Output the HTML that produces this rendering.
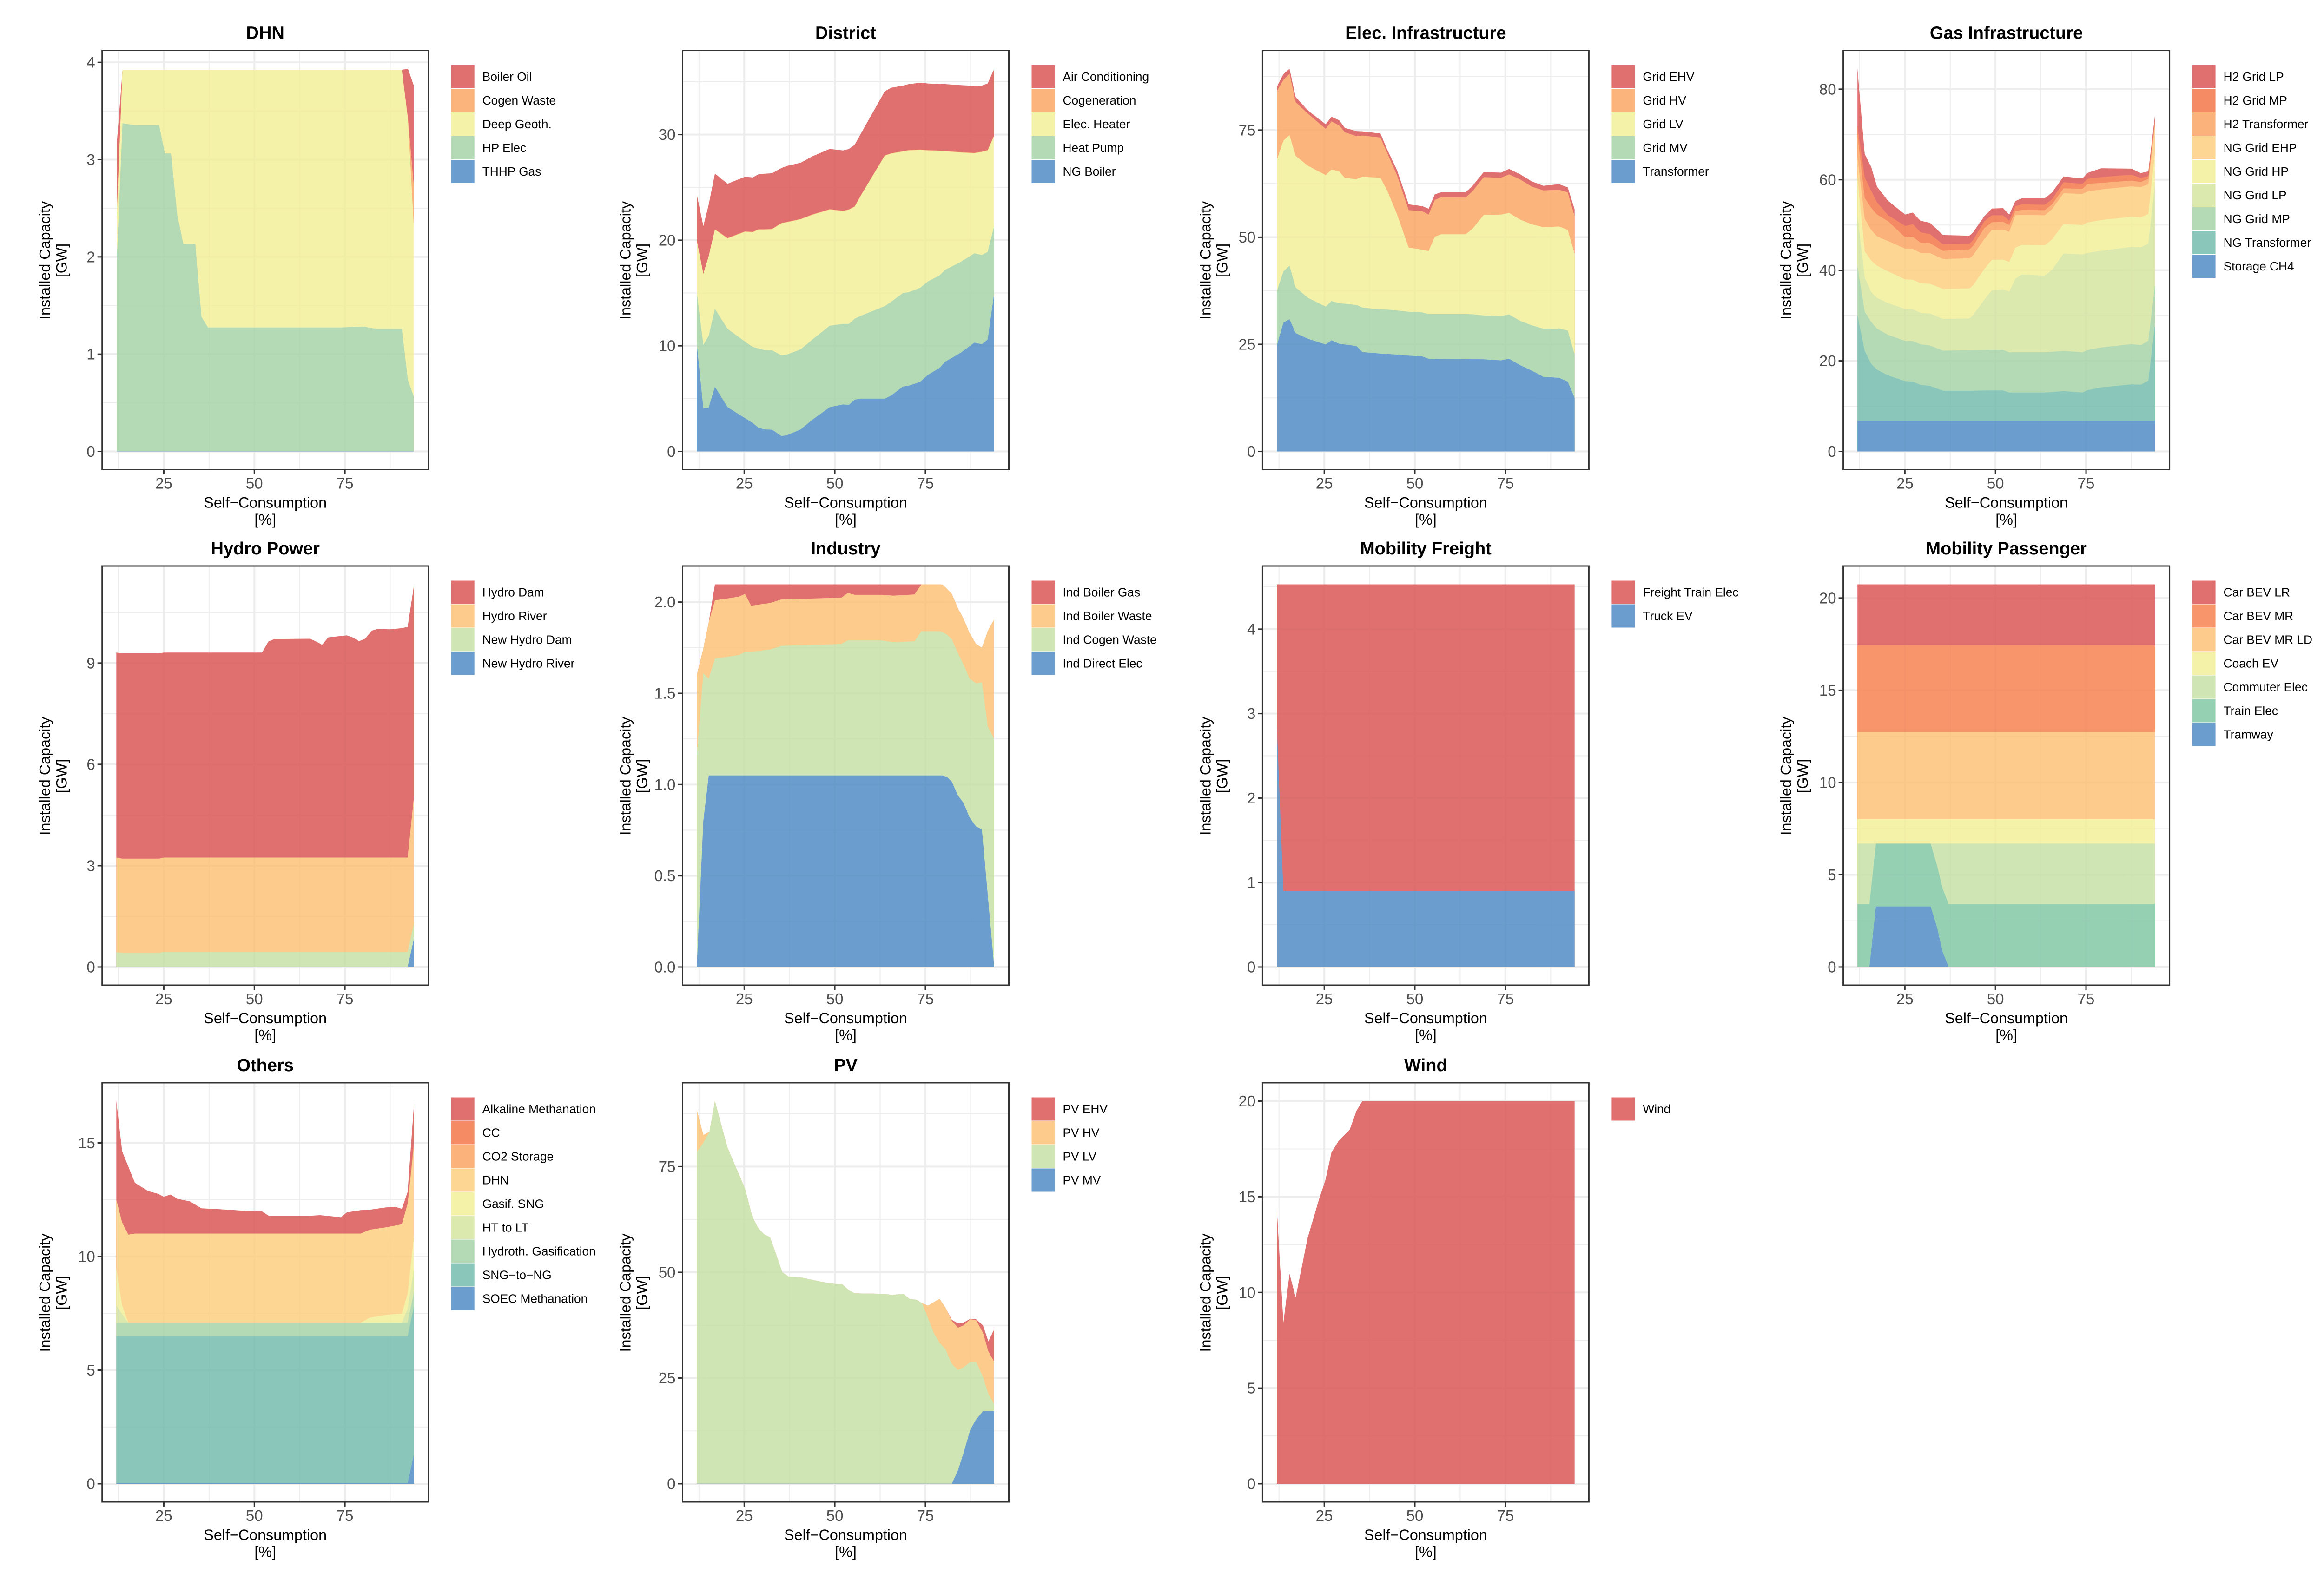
<!DOCTYPE html>
<html lang="en">
<head>
<meta charset="utf-8">
<title>Installed Capacity vs Self-Consumption</title>
<style>
html,body{margin:0;padding:0;background:#fff;}
svg{display:block;font-family:"Liberation Sans",Arial,sans-serif;}
</style>
</head>
<body>
<svg id="figure" xmlns="http://www.w3.org/2000/svg" width="5021" height="3385" viewBox="0 0 5021 3385">
<rect x="0" y="0" width="5021" height="3385" fill="#ffffff"></rect>
</svg>
<script>
// ---------- DHN ----------
const dhnX = [12,13.6,17,23.7,25.3,27,28.7,30.4,33.7,35.4,37.2,74,80,83,90.7,92.4,94];
const dhnBoilerOil = [0.72,0,0,0,0,0,0,0,0,0,0,0,0,0,0,0.5,1.03];
const dhnCogenWaste = [0.03,0,0,0,0,0,0,0,0,0,0,0,0,0,0,0.02,0.41];
const dhnDeepGeoth = [0.46,0.55,0.57,0.57,0.86,0.86,1.49,1.79,1.79,2.54,2.65,2.65,2.64,2.66,2.66,2.68,1.76];
const dhnHpElec = [1.94,3.37,3.35,3.35,3.06,3.06,2.43,2.13,2.13,1.38,1.27,1.27,1.28,1.26,1.26,0.73,0.56];
const dhnThhpGas = [0.004,0.004,0.004,0.004,0.004,0.004,0.004,0.004,0.004,0.004,0.004,0.004,0.004,0.004,0.004,0.004,0.004];
const dhnTicks = ['0','1','2','3','4'];

// ---------- District ----------
const districtX = [11.9,13.7,15.2,16.9,20.4,25.2,27.3,28.9,30.5,32.7,35.3,36.9,40.6,43.8,48.6,52.3,53.9,55.5,57.1,63.8,65.6,68.8,70.4,73.6,75.7,78.9,80.5,84.8,88.5,90.6,92.2,94];
const districtAirCond = [4.32,4.5,4.86,5.27,5.13,5.17,5.15,5.2,5.25,5.26,5.2,5.3,5.32,5.5,5.7,5.71,5.72,5.83,5.83,6.06,6.2,6.2,6.24,6.32,6.31,6.29,6.32,6.34,6.35,6.24,6.3,6.29];
const districtCogeneration = [0.04,0.04,0.04,0.04,0.04,0.04,0.04,0.04,0.04,0.04,0.04,0.04,0.04,0.04,0.04,0.04,0.04,0.04,0.04,0.04,0.04,0.04,0.04,0.04,0.04,0.04,0.04,0.04,0.04,0.04,0.04,0.04];
const districtElecHeater = [4.9,6.71,7.54,7.5,8.57,10.4,10.85,11.25,11.4,11.47,12.51,12.52,12.31,11.8,11,10.67,10.8,10.6,11.34,14.24,14.02,13.4,13.42,13.05,12.39,11.79,11.22,10.35,9.48,9.76,9.6,8.53];
const districtHeatPump = [4.93,6,6.8,7.38,7.41,7.24,7.2,7.49,7.51,7.51,7.64,7.63,7.58,7.6,7.71,7.63,7.67,7.67,7.83,8.76,8.88,8.85,8.86,8.9,8.85,8.76,8.7,8.6,8.45,8.45,8.3,6.37];
const districtNgBoiler = [10.15,4.09,4.16,6.12,4.19,3.16,2.7,2.26,2.09,2.06,1.45,1.55,2.09,3.0,4.19,4.45,4.41,4.9,5,5,5.3,6.15,6.22,6.6,7.25,7.9,8.5,9.35,10.3,10.15,10.6,15];
const districtTicks = ['0','10','20','30'];

// ---------- Elec. Infrastructure ----------
const elecX = [11.9,13.7,15.4,17.1,20.6,25.4,27,29.1,30.7,33.9,35.5,40.5,42.4,45.1,48.3,52,53.8,55.5,57.3,64,65.9,69,73.8,76,79.1,82.3,85.5,89.8,92.2,94.1];
const elecGridEhv = [1.03,1.35,1.17,1.2,0.76,1.05,1.1,1.2,0.98,1.19,0.97,0.95,0.8,1.2,1.36,1.2,1.35,1.3,1.17,1.25,1.26,1.2,1.19,1.27,1.19,1.2,1.08,1.28,1.19,1.62];
const elecGridHv = [16.07,14.16,14.33,12.54,12.14,10.8,11.22,10.72,10.7,10.02,9.63,9.38,8.76,9.1,8.74,8.97,8.51,8.6,8.67,8.59,8.76,8.8,8.59,8.99,9.37,8.8,8.59,8.58,8.75,8.75];
const elecGridLv = [30.62,30.54,30.45,30.7,30.8,30.7,30.7,30.78,29.35,29.35,30.54,30.7,27.74,22.4,14.96,14.65,14.72,18.05,18.61,18.61,19.94,23.47,23.7,23.7,23.64,23.57,23.7,23.8,23.5,23.46];
const elecGridMv = [12.72,11.94,12.49,10.66,9.55,8.83,9.15,9.47,9.5,9.6,10.36,10.34,10.35,10.3,10.25,10.26,10.42,10.45,10.47,10.5,10.48,10.23,10.34,10.34,10.34,10.58,11.21,11.52,11.9,10.18];
const elecTransformer = [24.66,30.06,30.86,27.6,26.25,24.97,25.93,25.13,24.95,24.6,23.2,22.83,22.75,22.6,22.35,22.19,21.63,21.6,21.58,21.55,21.52,21.5,21.24,21.63,20.12,18.85,17.42,17.18,16.3,12.49];
const elecTicks = ['0','25','50','75'];

// ---------- Gas Infrastructure ----------
const gasX = [11.9,13.9,15.7,17.3,20.4,25.1,27.2,29.3,31.9,35.5,42.8,43.8,46.9,49,52.1,53.8,55.5,57.3,63.6,65.6,68.8,74,75.5,79.2,87.5,90.1,92.2,94];
const gasH2Lp = [12.64,5.12,5.27,3.47,3.16,2.5,2.55,2.54,2.49,2.03,1.73,1.73,1.12,1.51,1.58,1.36,1.12,1.35,1.42,1.5,1.28,1.2,1.35,1.96,1.35,1.05,1.05,1.1];
const gasH2Mp = [1.86,4.57,3.76,2.7,1.34,2.55,2.8,2.3,2,1.45,1.3,1.28,1.5,1.54,1.44,0.94,1.18,1.2,1.21,1.13,1.34,1.07,1.13,1.27,1.3,0.92,0.6,0.8];
const gasH2Transformer = [4.9,4.6,4.9,4.8,4.37,2.48,2.7,2.23,2.2,1.8,1.94,2.07,2.42,1.7,1.72,1.5,0.86,1.15,1.13,1.05,1.1,1.12,1.67,1.44,1.26,1.1,1.2,0.3];
const gasNgEhp = [4.5,7.2,6.76,6.5,6.7,6.77,6.8,6.7,6.78,6.6,6.66,6.66,6.62,6.6,6.62,6.66,7.14,6.6,6.64,6.7,6.74,6.88,6.84,6.76,6.7,6.7,6.56,6.1];
const gasNgHp = [8.46,5.8,6.94,7.1,7,6.55,6.5,6.57,6.55,6.63,6.65,6.54,6.78,6.7,6.56,6.54,6.85,6.55,6.7,6.7,6.56,6.5,6.69,6.8,6.69,6.63,6.54,6.8];
const gasNgLp = [11.14,7.55,6.6,6.8,7,7.07,7.02,6.95,7.07,7,7,7.75,11.08,13.18,13.38,13.4,16.25,17.15,16.9,18.1,21.5,21.6,21.47,21.35,21.45,21.59,21.45,22.36];
const gasNgMp = [10.9,8.65,9.26,9.04,8.95,8.88,8.96,8.95,8.9,8.87,8.95,8.95,8.95,8.95,8.95,8.9,8.9,8.9,8.9,8.9,8.88,8.9,8.86,8.8,8.88,8.73,8.8,8.8];
const gasNgTransformer = [23.33,15.43,12.57,11.29,10.01,8.73,8.65,7.93,7.73,6.63,6.63,6.63,6.68,6.7,6.7,6.23,6.23,6.23,6.23,6.33,6.55,6.23,6.77,7.38,8.05,7.98,8.88,21.07];
const gasStorageCh4 = [6.77,6.77,6.77,6.77,6.77,6.77,6.77,6.77,6.77,6.77,6.77,6.77,6.77,6.77,6.77,6.77,6.77,6.77,6.77,6.77,6.77,6.77,6.77,6.77,6.77,6.77,6.77,6.77];
const gasTicks = ['0','20','40','60','80'];

// ---------- Hydro Power ----------
const hydroX = [11.9,13.5,23.7,25,52.1,53.9,55.5,65.4,67,68.7,70.4,75.5,77.1,78.9,80.6,82.4,84,87.4,90.4,92.3,94.1];
const hydroDam = [6.07,6.08,6.08,6.07,6.07,6.4,6.47,6.48,6.4,6.3,6.52,6.58,6.52,6.41,6.48,6.72,6.77,6.76,6.79,6.83,6.24];
const hydroRiver = [2.8,2.79,2.79,2.79,2.79,2.79,2.79,2.79,2.79,2.79,2.79,2.79,2.79,2.79,2.79,2.79,2.79,2.79,2.79,2.79,3.78];
const hydroNewDam = [0.44,0.42,0.42,0.45,0.45,0.45,0.45,0.45,0.45,0.45,0.45,0.45,0.45,0.45,0.45,0.45,0.45,0.45,0.45,0.45,0.45];
const hydroNewRiver = [0,0,0,0,0,0,0,0,0,0,0,0,0,0,0,0,0,0,0,0,0.86];
const hydroTicks = ['0','3','6','9'];

// ---------- Industry ----------
const industryX = [11.9,13.7,15.2,16.9,20.4,23.6,25.2,26.9,32.1,35.3,51.8,53.6,55.5,63,66.2,72,73.9,78.9,79.8,81.1,82.3,84,85.5,87.2,89,90.6,91.7,92.2,94];
const industryBoilerGas = [0,0,0,0.087,0.077,0.067,0.052,0.117,0.102,0.082,0.073,0.047,0.057,0.057,0.062,0.055,0,0,0,0,0,0,0,0,0,0,0,0,0];
const industryBoilerWaste = [0.44,0.135,0.31,0.32,0.32,0.32,0.318,0.253,0.255,0.255,0.254,0.26,0.25,0.25,0.255,0.257,0.257,0.257,0.26,0.25,0.249,0.245,0.25,0.25,0.215,0.19,0.41,0.52,0.656];
const industryCogenWaste = [1.16,0.81,0.53,0.64,0.65,0.66,0.677,0.677,0.69,0.71,0.72,0.74,0.74,0.74,0.73,0.735,0.79,0.79,0.785,0.78,0.78,0.78,0.76,0.76,0.785,0.805,0.89,0.92,1.25];
const industryDirectElec = [0,0.8,1.05,1.05,1.05,1.05,1.05,1.05,1.05,1.05,1.05,1.05,1.05,1.05,1.05,1.05,1.05,1.05,1.05,1.04,1.015,0.94,0.9,0.82,0.77,0.755,0.51,0.4,0];
const industryTicks = ['0.0','0.5','1.0','1.5','2.0'];

// ---------- Mobility Freight ----------
const freightX = [11.9,13.7,94.1];
const freightTrainElec = [1.67,3.63,3.63];
const freightTruckEv = [2.86,0.9,0.9];
const freightTicks = ['0','1','2','3','4'];

// ---------- Mobility Passenger ----------
const passengerX = [11.9,15.2,17,32.1,33.9,35.5,37.1,94];
const passengerCarLr = [3.3,3.3,3.3,3.3,3.3,3.3,3.3,3.3];
const passengerCarMr = [4.71,4.71,4.71,4.71,4.71,4.71,4.71,4.71];
const passengerCarMrLd = [4.72,4.72,4.72,4.72,4.72,4.72,4.72,4.72];
const passengerCoachEv = [1.32,1.32,1.32,1.32,1.32,1.32,1.32,1.32];
const passengerCommuter = [3.28,3.28,0,0,1.21,2.49,3.28,3.28];
const passengerTrain = [3.41,3.41,3.41,3.41,3.36,3.44,3.41,3.41];
const passengerTramway = [0,0,3.28,3.28,2.12,0.76,0,0];
const passengerTicks = ['0','5','10','15','20'];

// ---------- Others ----------
const othersX = [11.9,13.5,15.2,17,20.7,23.4,25,26.9,28.7,32.2,35.4,39.4,50,52.1,54,64.9,68.1,73.9,75.5,79.3,81.9,86.2,88.8,90.7,92.3,94.1];
const othersAlkaline = [4.34,3.14,3,2.24,1.87,1.75,1.62,1.72,1.53,1.42,1.11,1.08,0.98,0.98,0.78,0.78,0.81,0.72,0.93,1.03,0.88,0.88,0.83,0.68,0.49,1.65];
const othersCc = [0,0,0,0,0,0,0,0,0,0,0,0,0,0,0,0,0,0,0,0,0,0,0,0,0.05,0.15];
const othersCo2Storage = [0,0,0,0,0,0,0,0,0,0,0,0,0,0,0,0,0,0,0,0,0,0,0,0,0,0.15];
const othersDhn = [3.05,3.65,3.87,3.92,3.92,3.92,3.92,3.92,3.92,3.92,3.92,3.92,3.92,3.92,3.92,3.92,3.92,3.92,3.92,3.92,3.87,3.85,3.89,3.93,3.94,3.88];
const othersGasifSng = [1.61,0.38,0,0,0,0,0,0,0,0,0,0,0,0,0,0,0,0,0,0,0.22,0.34,0.38,0.4,0.67,1.49];
const othersHtToLt = [0.75,0.37,0,0,0,0,0,0,0,0,0,0,0,0,0,0,0,0,0,0,0,0,0,0,0.6,1.02];
const othersHydroth = [0.6,0.6,0.6,0.6,0.6,0.6,0.6,0.6,0.6,0.6,0.6,0.6,0.6,0.6,0.6,0.6,0.6,0.6,0.6,0.6,0.6,0.6,0.6,0.6,0.6,0.62];
const othersSngToNg = [6.47,6.47,6.47,6.47,6.47,6.47,6.47,6.47,6.47,6.47,6.47,6.47,6.47,6.47,6.47,6.47,6.47,6.47,6.47,6.47,6.47,6.47,6.47,6.47,6.47,6.5];
const othersSoec = [0.02,0.02,0.02,0.02,0.02,0.02,0.02,0.02,0.02,0.02,0.02,0.02,0.02,0.02,0.02,0.02,0.02,0.02,0.02,0.02,0.02,0.02,0.02,0.02,0.02,1.34];
const othersTicks = ['0','5','10','15'];

// ---------- PV ----------
const pvX = [11.9,13.7,15.4,16.9,20.4,25.2,27.3,28.9,30.5,32.1,33.7,35.5,37.2,41.2,46.5,50.2,52.1,53.9,55.5,64,65.6,68.9,70.6,72.6,74.1,75.7,77.3,78.9,80.5,82.3,84,85.5,87.4,89,90.9,92.4,94];
const pvEhv = [0,0,0,0,0,0,0,0,0,0,0,0,0,0,0,0,0,0,0,0,0,0,0,0,0,0,0,0,0,0.23,1.03,0.65,0.1,0.2,1.75,2.41,7.7];
const pvHv = [10.02,1.84,0,0,0,0,0,0,0,0,0,0,0,0,0,0,0,0,0,0,0,0,0,0,0,2.9,7.2,10.4,9.8,10.2,10,9.95,10.1,9.9,10.44,10.02,10.02];
const pvLv = [78.35,80.6,83.2,90.46,79.4,69.8,62.95,60.4,58.94,58.3,54.5,49.96,49,48.68,47.7,47.2,47.15,45.7,45,44.9,44.6,44.9,43.7,43.46,42.66,39.2,35.7,33.3,31.9,28.3,23.7,20.3,16,13.6,8.1,4.09,1.69];
const pvMv = [0.02,0.02,0.02,0.02,0.02,0.02,0.02,0.02,0.02,0.02,0.02,0.02,0.02,0.02,0.02,0.02,0.02,0.02,0.02,0.02,0.02,0.02,0.02,0.02,0.02,0.02,0.02,0.02,0.02,0.02,3.2,7.2,12.8,15.2,17.16,17.16,17.16];
const pvTicks = ['0','25','50','75'];

// ---------- Wind ----------
const windX = [11.9,13.7,15.4,17.1,20.4,23.6,25.3,27,28.9,32,33.9,35.5,94.1];
const windCapacity = [14.4,8.42,10.97,9.75,12.85,14.9,15.87,17.32,17.9,18.5,19.5,20,20];
const windTicks = ['0','5','10','15','20'];

const xTicks = ['25','50','75'];

// Spectral-like palettes by number of legend keys
const pal1 = ['#E07070'];
const pal2 = ['#E07070','#6B9ECE'];
const pal4 = ['#E07070','#FDCB8B','#CFE5B3','#6B9ECE'];
const pal5 = ['#E07070','#FBB47C','#F4F1A9','#B4DAB5','#6B9ECE'];
const pal7 = ['#E07070','#F8956B','#FDCB8B','#F4F1A9','#CFE5B3','#96D0B3','#6B9ECE'];
const pal9 = ['#E07070','#F58B65','#FBB27B','#FED694','#F4F1A9','#DBE8AE','#B4DAB5','#8AC7BA','#6B9ECE'];

const charts = [
  {title:'DHN', x:dhnX, ticks:dhnTicks, colors:pal5, names:['Boiler Oil','Cogen Waste','Deep Geoth.','HP Elec','THHP Gas'], values:[dhnBoilerOil,dhnCogenWaste,dhnDeepGeoth,dhnHpElec,dhnThhpGas]},
  {title:'District', x:districtX, ticks:districtTicks, colors:pal5, names:['Air Conditioning','Cogeneration','Elec. Heater','Heat Pump','NG Boiler'], values:[districtAirCond,districtCogeneration,districtElecHeater,districtHeatPump,districtNgBoiler]},
  {title:'Elec. Infrastructure', x:elecX, ticks:elecTicks, colors:pal5, names:['Grid EHV','Grid HV','Grid LV','Grid MV','Transformer'], values:[elecGridEhv,elecGridHv,elecGridLv,elecGridMv,elecTransformer]},
  {title:'Gas Infrastructure', x:gasX, ticks:gasTicks, colors:pal9, names:['H2 Grid LP','H2 Grid MP','H2 Transformer','NG Grid EHP','NG Grid HP','NG Grid LP','NG Grid MP','NG Transformer','Storage CH4'], values:[gasH2Lp,gasH2Mp,gasH2Transformer,gasNgEhp,gasNgHp,gasNgLp,gasNgMp,gasNgTransformer,gasStorageCh4]},
  {title:'Hydro Power', x:hydroX, ticks:hydroTicks, colors:pal4, names:['Hydro Dam','Hydro River','New Hydro Dam','New Hydro River'], values:[hydroDam,hydroRiver,hydroNewDam,hydroNewRiver]},
  {title:'Industry', x:industryX, ticks:industryTicks, colors:pal4, names:['Ind Boiler Gas','Ind Boiler Waste','Ind Cogen Waste','Ind Direct Elec'], values:[industryBoilerGas,industryBoilerWaste,industryCogenWaste,industryDirectElec]},
  {title:'Mobility Freight', x:freightX, ticks:freightTicks, colors:pal2, names:['Freight Train Elec','Truck EV'], values:[freightTrainElec,freightTruckEv]},
  {title:'Mobility Passenger', x:passengerX, ticks:passengerTicks, colors:pal7, names:['Car BEV LR','Car BEV MR','Car BEV MR LD','Coach EV','Commuter Elec','Train Elec','Tramway'], values:[passengerCarLr,passengerCarMr,passengerCarMrLd,passengerCoachEv,passengerCommuter,passengerTrain,passengerTramway]},
  {title:'Others', x:othersX, ticks:othersTicks, colors:pal9, names:['Alkaline Methanation','CC','CO2 Storage','DHN','Gasif. SNG','HT to LT','Hydroth. Gasification','SNG\u2212to\u2212NG','SOEC Methanation'], values:[othersAlkaline,othersCc,othersCo2Storage,othersDhn,othersGasifSng,othersHtToLt,othersHydroth,othersSngToNg,othersSoec]},
  {title:'PV', x:pvX, ticks:pvTicks, colors:pal4, names:['PV EHV','PV HV','PV LV','PV MV'], values:[pvEhv,pvHv,pvLv,pvMv]},
  {title:'Wind', x:windX, ticks:windTicks, colors:pal1, names:['Wind'], values:[windCapacity]}
];

const SVGNS = 'http://www.w3.org/2000/svg';
const root = document.getElementById('figure');
const colLeft = [219.7,1468.5,2716.4,3965.6];
const rowTop = [108.5,1218,2330];
const panelW = 702, panelH = 902;

function make(parent, tag, attrs, text){
  const el = document.createElementNS(SVGNS, tag);
  for (const k in attrs) el.setAttribute(k, attrs[k]);
  if (text !== undefined) el.textContent = text;
  parent.appendChild(el);
  return el;
}
function slug(s){ return s.toLowerCase().replace(/[^a-z0-9]+/g,'-').replace(/^-|-$/g,''); }

charts.forEach(function(chart, idx){
  const L = colLeft[idx % 4], T = rowTop[Math.floor(idx / 4)];
  const R = L + panelW, B = T + panelH;
  const key = slug(chart.title);

  // stacked tops, last legend entry sits on the baseline
  const tops = chart.values.map(function(){ return []; });
  chart.x.forEach(function(_, j){
    let run = 0;
    for (let s = chart.values.length - 1; s >= 0; s--){
      run += chart.values[s][j];
      tops[s][j] = run;
    }
  });
  let yMax = 0;
  tops.forEach(function(t){ t.forEach(function(v){ if (v > yMax) yMax = v; }); });

  const xScale = function(v){ return L + (v - 7.97) * 7.794; };
  const yScale = function(v){ return (B - 39) - (v / yMax) * (panelH - 78.5); };

  const g = make(root, 'g', {});
  
  

  const tickVals = chart.ticks.map(Number);
  const xVals = xTicks.map(Number);
  const yStep = tickVals[1] - tickVals[0];
  const xStep = xVals[1] - xVals[0];

  const gridGroup = make(g, 'g', {});
  
  

  function drawGrid(parent, colour, majorW, minorW){
    for (let v = -yStep / 2; yScale(v) > T; v += yStep / 2){
      const py = yScale(v);
      if (py >= B) continue;
      const isMajor = Math.abs(v / yStep - Math.round(v / yStep)) < 1e-6;
      const ln = make(parent, 'line', {x1:L, x2:R, y1:py, y2:py, stroke:colour, 'stroke-width': isMajor ? majorW : minorW});
      
      
    }
    for (let v = xVals[0] - xStep; xScale(v) < R; v += xStep / 2){
      const px = xScale(v);
      if (px <= L) continue;
      const isMajor = Math.abs(v / xStep - Math.round(v / xStep)) < 1e-6;
      const ln = make(parent, 'line', {x1:px, x2:px, y1:T, y2:B, stroke:colour, 'stroke-width': isMajor ? majorW : minorW});
      
      
    }
  }
  drawGrid(gridGroup, '#EDEDED', 4, 2);

  // areas painted tallest first so neighbouring bands have no seams
  let outline = '';
  chart.values.forEach(function(_, s){
    let d = 'M' + xScale(chart.x[0]).toFixed(1) + ' ' + yScale(0).toFixed(1);
    chart.x.forEach(function(xv, j){
      d += 'L' + xScale(xv).toFixed(1) + ' ' + yScale(tops[s][j]).toFixed(1);
    });
    d += 'L' + xScale(chart.x[chart.x.length - 1]).toFixed(1) + ' ' + yScale(0).toFixed(1) + 'Z';
    if (s === 0) outline = d;
    const area = make(g, 'path', {d:d, fill:chart.colors[s]});
    
    
  });

  // very faint grid showing through the translucent fills, clipped to the stack
  const clip = make(g, 'clipPath', {id:'stack-clip-' + idx});
  
  
  make(clip, 'path', {d:outline});
  const ghost = make(g, 'g', {opacity:0.012, 'clip-path':'url(#stack-clip-' + idx + ')'});
  
  
  drawGrid(ghost, '#000000', 4, 2);

  const border = make(g, 'rect', {x:L, y:T, width:panelW, height:panelH, fill:'none', stroke:'#333333', 'stroke-width':3});
  
  

  const title = make(g, 'text', {x:(L + R) / 2, y:T - 25, 'text-anchor':'middle', 'font-size':38, 'font-weight':'bold', fill:'#000'}, chart.title);
  
  

  // y axis
  chart.ticks.forEach(function(label, i){
    const py = yScale(tickVals[i]);
    const tick = make(g, 'line', {x1:L - 10, x2:L, y1:py, y2:py, stroke:'#333333', 'stroke-width':3});
    
    
    const txt = make(g, 'text', {x:L - 15, y:py + 11.5, 'text-anchor':'end', 'font-size':33, fill:'#4D4D4D'}, label);
    
    
  });

  // x axis
  xTicks.forEach(function(label, i){
    const px = xScale(xVals[i]);
    const tick = make(g, 'line', {x1:px, x2:px, y1:B, y2:B + 10, stroke:'#333333', 'stroke-width':3});
    
    
    const txt = make(g, 'text', {x:px, y:B + 41, 'text-anchor':'middle', 'font-size':33, fill:'#4D4D4D'}, label);
    
    
  });

  const xt1 = make(g, 'text', {x:(L + R) / 2, y:B + 82, 'text-anchor':'middle', 'font-size':32.3, fill:'#000'}, 'Self\u2212Consumption');
  
  
  const xt2 = make(g, 'text', {x:(L + R) / 2, y:B + 118.5, 'text-anchor':'middle', 'font-size':32.3, fill:'#000'}, '[%]');
  
  

  const midY = (T + B) / 2 + 1;
  const yt1 = make(g, 'text', {transform:'translate(' + (L - 112) + ' ' + midY + ') rotate(-90)', 'text-anchor':'middle', 'font-size':32.3, fill:'#000'}, 'Installed Capacity');
  
  
  const yt2 = make(g, 'text', {transform:'translate(' + (L - 76) + ' ' + midY + ') rotate(-90)', 'text-anchor':'middle', 'font-size':32.3, fill:'#000'}, '[GW]');
  
  

  // legend
  const legend = make(g, 'g', {});
  
  
  chart.names.forEach(function(name, i){
    const ky = T + 31.5 + i * 51;
    const swatch = make(legend, 'rect', {x:L + 751, y:ky, width:50, height:50, fill:chart.colors[i]});
    
    
    const label = make(legend, 'text', {x:L + 818, y:ky + 34, 'font-size':26.3, fill:'#000'}, name);
    
    
  });
});
</script>
</body>
</html>
